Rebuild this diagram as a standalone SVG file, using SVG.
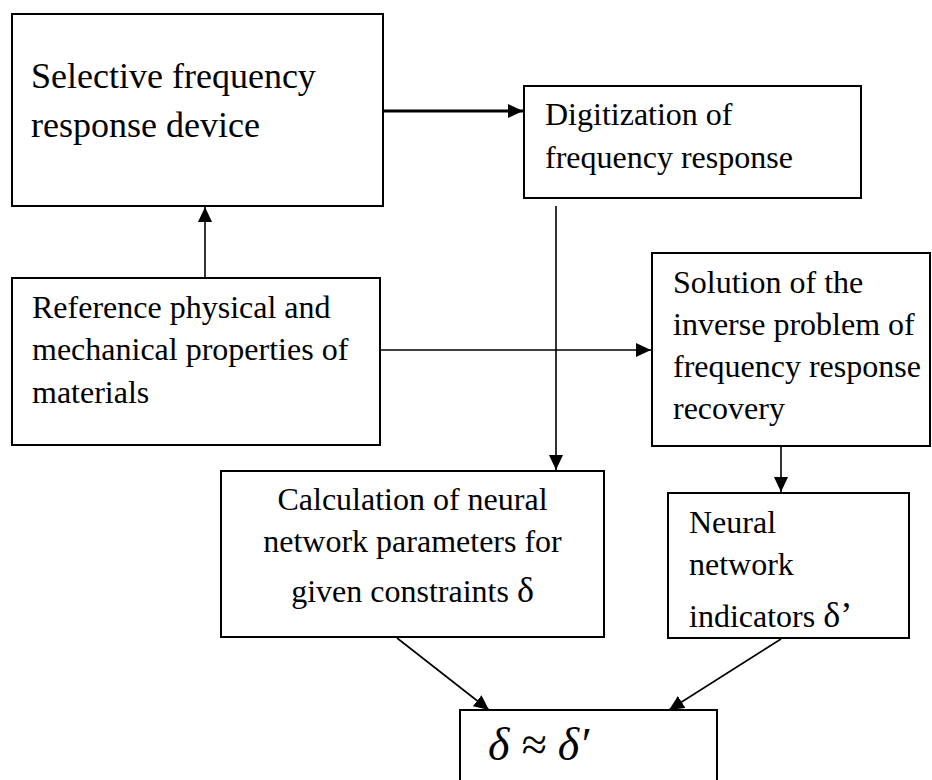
<svg xmlns="http://www.w3.org/2000/svg" width="932" height="780" viewBox="0 0 932 780">
<defs>
<marker id="ah" markerUnits="userSpaceOnUse" markerWidth="16" markerHeight="14" refX="15" refY="7" orient="auto">
<path d="M0,0 L15,7 L0,14 Z" fill="#000"/>
</marker>
<style>
.box{fill:#fff;stroke:#000;stroke-width:2}
.t{font-family:'Liberation Serif','Times New Roman',serif;font-size:32px;fill:#000}
.c{stroke:#000;stroke-width:1.6;fill:none}
</style>
</defs>
<rect width="932" height="780" fill="#fff"/>
<g id="connectors">
<line class="c" x1="383" y1="111" x2="523" y2="111" style="stroke-width:2.8" marker-end="url(#ah)"/>
<line class="c" x1="205" y1="278" x2="205" y2="207" marker-end="url(#ah)"/>
<line class="c" x1="380" y1="350" x2="651" y2="350" marker-end="url(#ah)"/>
<line class="c" x1="556" y1="206" x2="556" y2="470" marker-end="url(#ah)"/>
<line class="c" x1="781" y1="446" x2="781" y2="492" marker-end="url(#ah)"/>
<line class="c" x1="397" y1="638" x2="489" y2="710" marker-end="url(#ah)"/>
<line class="c" x1="781" y1="639" x2="669" y2="710" marker-end="url(#ah)"/>
</g>
<g id="n1">
<rect class="box" x="12" y="14" width="371" height="192"/>
<text class="t" style="font-size:36px" x="31" y="88">Selective frequency</text>
<text class="t" style="font-size:36px" x="31" y="137">response device</text>
</g>
<g id="n2">
<rect class="box" x="524" y="86" width="337" height="112"/>
<text class="t" x="545" y="125">Digitization of</text>
<text class="t" x="545" y="168">frequency response</text>
</g>
<g id="n3">
<rect class="box" x="12" y="278" width="368" height="167"/>
<text class="t" x="32" y="318">Reference physical and</text>
<text class="t" x="32" y="360">mechanical properties of</text>
<text class="t" x="32" y="403">materials</text>
</g>
<g id="n4">
<rect class="box" x="652" y="253" width="278" height="193"/>
<text class="t" x="673" y="293">Solution of the</text>
<text class="t" x="673" y="335">inverse problem of</text>
<text class="t" x="673" y="377">frequency response</text>
<text class="t" x="673" y="419">recovery</text>
</g>
<g id="n5">
<rect class="box" x="221" y="471" width="383" height="166"/>
<text class="t" x="412.5" y="510" text-anchor="middle">Calculation of neural</text>
<text class="t" x="412.5" y="552" text-anchor="middle">network parameters for</text>
<text class="t" x="412.5" y="602" text-anchor="middle">given constraints <tspan style="font-size:36px">δ</tspan></text>
</g>
<g id="n6">
<rect class="box" x="668" y="493" width="241" height="145"/>
<text class="t" x="689" y="533">Neural</text>
<text class="t" x="689" y="575">network</text>
<text class="t" x="689" y="627">indicators <tspan style="font-size:36px">δ’</tspan></text>
</g>
<g id="n7">
<rect class="box" x="460" y="710" width="257" height="80"/>
<text class="t" x="488" y="760" style="font-size:46px;font-style:italic">δ ≈ δ′</text>
</g>
</svg>
